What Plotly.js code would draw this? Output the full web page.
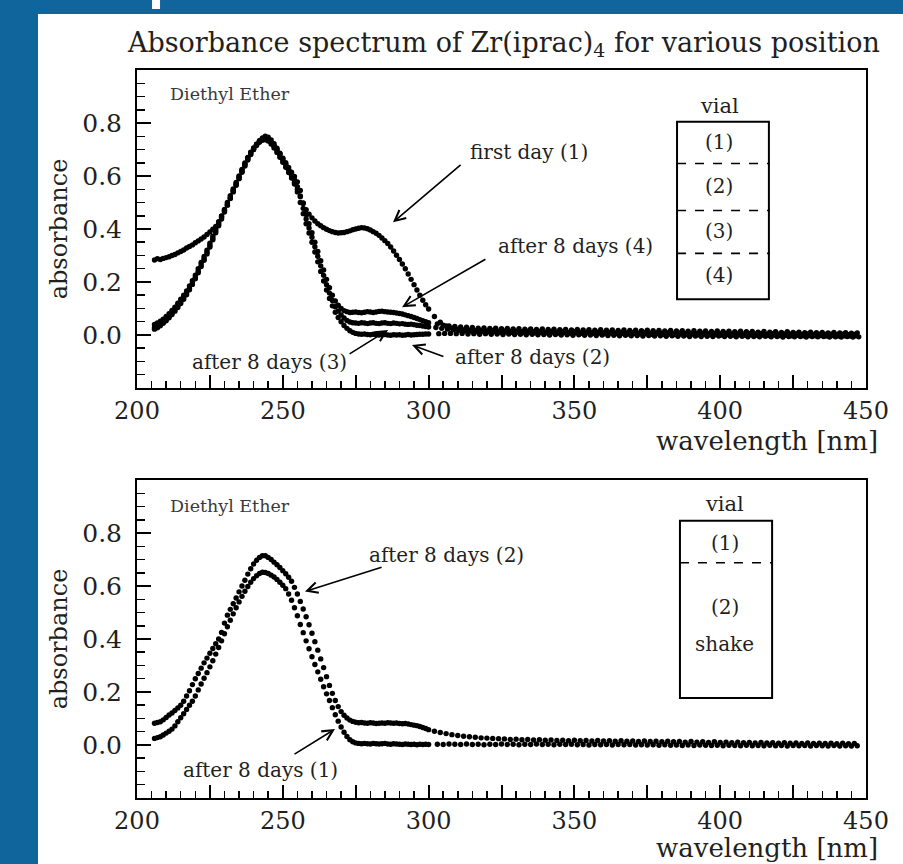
<!DOCTYPE html>
<html>
<head>
<meta charset="utf-8">
<script src="https://cdn.plot.ly/plotly-3.0.1.min.js"></script>
<style>html,body{margin:0;padding:0;background:#11659d;}#chart{width:903px;height:864px;}</style>
</head>
<body>
<div id="chart"></div>
<script>
// ---- wavelength grids (nm): segment A 206..300 step 1, segment B (tail) step 2
const WL_A_START = 206, WL_A_STEP = 1;
const WL_B_STEP = 2;
// tail sampling starts (each scan sampled on its own grid)
const tailStart = {firstDay: 302, d8_4: 303, d8_3: 302.5, d8_2: 303.5, sh2: 302, sh1: 303};

// ---- axis ticks
const yTickValues = [0, 0.2, 0.4, 0.6, 0.8];
const yTickLabels = ['0.0','0.2','0.4','0.6','0.8'];

// ---- TOP PANEL: first day (1)
const firstDayA = [0.283,0.288,0.285,0.289,0.292,0.295,0.300,0.304,0.310,0.315,
0.321,0.328,0.334,0.340,0.348,0.355,0.362,0.370,0.379,0.389,
0.399,0.410,0.428,0.448,0.469,0.491,0.515,0.540,0.565,0.590,
0.614,0.638,0.660,0.681,0.700,0.718,0.733,0.744,0.750,0.746,
0.736,0.722,0.705,0.686,0.666,0.645,0.622,0.600,0.576,0.550,
0.522,0.496,0.473,0.456,0.442,0.430,0.420,0.412,0.405,0.399,
0.394,0.390,0.387,0.385,0.386,0.387,0.390,0.393,0.397,0.400,
0.403,0.405,0.404,0.401,0.396,0.390,0.384,0.376,0.366,0.356,
0.345,0.332,0.317,0.301,0.285,0.268,0.250,0.230,0.210,0.190,
0.170,0.150,0.131,0.114,0.098];
const firstDayB = [0.070,0.048,0.034,0.026,0.022,0.019,0.018,0.016,0.017,0.015,
0.016,0.014,0.015,0.013,0.014,0.012,0.014,0.012,0.013,0.011,
0.013,0.011,0.012,0.010,0.012,0.010,0.011,0.009,0.011,0.009,
0.010,0.008,0.010,0.008,0.009,0.007,0.009,0.007,0.008,0.007,
0.008,0.006,0.008,0.006,0.007,0.005,0.007,0.005,0.006,0.005,
0.006,0.004,0.006,0.004,0.005,0.004,0.005,0.003,0.005,0.003,
0.004,0.003,0.004,0.002,0.004,0.002,0.003,0.002,0.003,0.001,
0.003,0.001,0.002];

// ---- TOP PANEL: after 8 days (4)
const days8_4A = [0.040,0.045,0.052,0.060,0.070,0.080,0.093,0.105,0.120,0.135,
0.150,0.166,0.185,0.205,0.226,0.250,0.274,0.296,0.320,0.346,
0.373,0.399,0.424,0.449,0.474,0.500,0.526,0.551,0.576,0.600,
0.625,0.649,0.670,0.690,0.706,0.720,0.731,0.738,0.740,0.736,
0.727,0.714,0.700,0.684,0.667,0.650,0.632,0.614,0.598,0.578,
0.545,0.498,0.455,0.420,0.386,0.350,0.315,0.280,0.245,0.210,
0.178,0.150,0.128,0.112,0.100,0.092,0.088,0.085,0.086,0.087,
0.085,0.084,0.086,0.088,0.087,0.085,0.087,0.089,0.090,0.088,
0.087,0.086,0.085,0.083,0.081,0.079,0.076,0.073,0.070,0.066,
0.062,0.058,0.054,0.050,0.046];
const days8_4B = [0.042,0.037,0.034,0.032,0.030,0.029,0.028,0.026,0.027,0.025,
0.026,0.024,0.025,0.023,0.024,0.022,0.023,0.021,0.023,0.021,
0.022,0.020,0.021,0.019,0.021,0.019,0.020,0.018,0.020,0.018,
0.019,0.017,0.019,0.017,0.018,0.016,0.018,0.016,0.017,0.015,
0.017,0.015,0.016,0.014,0.016,0.014,0.015,0.013,0.015,0.013,
0.014,0.012,0.014,0.012,0.013,0.011,0.013,0.011,0.012,0.010,
0.012,0.010,0.011,0.009,0.011,0.009,0.010,0.008,0.010,0.008,
0.009,0.007,0.008];

// ---- TOP PANEL: after 8 days (3)
const days8_3A = [0.028,0.033,0.042,0.050,0.060,0.071,0.083,0.096,0.110,0.125,
0.141,0.158,0.177,0.197,0.218,0.241,0.265,0.288,0.312,0.338,
0.365,0.392,0.418,0.443,0.469,0.495,0.521,0.547,0.572,0.597,
0.622,0.646,0.668,0.688,0.705,0.720,0.732,0.740,0.742,0.737,
0.727,0.712,0.696,0.679,0.661,0.643,0.624,0.605,0.585,0.560,
0.525,0.478,0.438,0.404,0.369,0.333,0.297,0.261,0.225,0.190,
0.158,0.130,0.107,0.090,0.076,0.064,0.055,0.049,0.046,0.045,
0.044,0.046,0.045,0.043,0.045,0.046,0.044,0.043,0.045,0.046,
0.044,0.043,0.045,0.044,0.042,0.043,0.041,0.040,0.041,0.039,
0.037,0.036,0.034,0.032,0.030];
const days8_3B = [0.028,0.025,0.022,0.020,0.018,0.016,0.015,0.013,0.014,0.012,
0.013,0.011,0.012,0.010,0.011,0.009,0.010,0.008,0.010,0.008,
0.009,0.007,0.009,0.007,0.008,0.006,0.008,0.006,0.007,0.005,
0.007,0.005,0.006,0.004,0.006,0.004,0.005,0.003,0.005,0.003,
0.004,0.002,0.004,0.002,0.003,0.001,0.003,0.001,0.002,0.000,
0.002,0.000,0.001,-0.001,0.001,-0.001,0.000,-0.002,0.000,-0.002,
-0.001,-0.003,-0.001,-0.003,-0.002,-0.003,-0.002,-0.004,-0.002,-0.004,
-0.003,-0.004,-0.003];

// ---- TOP PANEL: after 8 days (2)
const days8_2A = [0.022,0.027,0.035,0.044,0.054,0.065,0.077,0.090,0.104,0.119,
0.135,0.152,0.171,0.191,0.212,0.235,0.258,0.282,0.306,0.332,
0.359,0.386,0.412,0.438,0.464,0.490,0.516,0.542,0.567,0.592,
0.617,0.641,0.663,0.683,0.700,0.715,0.727,0.735,0.737,0.732,
0.721,0.706,0.689,0.671,0.652,0.633,0.613,0.592,0.570,0.540,
0.500,0.458,0.420,0.385,0.350,0.313,0.276,0.240,0.204,0.170,
0.138,0.110,0.086,0.066,0.050,0.036,0.025,0.016,0.010,0.006,
0.004,0.003,0.004,0.002,0.001,0.003,0.002,0.000,0.001,0.002,
0.000,-0.001,0.001,0.000,0.001,-0.001,0.000,0.002,0.000,0.001,
0.002,0.003,0.003,0.004,0.004];
const days8_2B = [0.005,0.006,0.006,0.005,0.006,0.004,0.005,0.003,0.005,0.003,
0.004,0.002,0.004,0.002,0.003,0.001,0.003,0.001,0.002,0.000,
0.002,0.000,0.001,-0.001,0.001,-0.001,0.000,-0.002,0.000,-0.002,
-0.001,-0.003,-0.001,-0.003,-0.002,-0.004,-0.002,-0.004,-0.003,-0.005,
-0.003,-0.005,-0.004,-0.006,-0.004,-0.006,-0.005,-0.006,-0.004,-0.006,
-0.005,-0.007,-0.005,-0.007,-0.006,-0.007,-0.005,-0.007,-0.006,-0.008,
-0.006,-0.007,-0.006,-0.008,-0.006,-0.007,-0.006,-0.008,-0.007,-0.008,
-0.006,-0.008,-0.007];

// ---- BOTTOM PANEL: after 8 days (2) (upper curve)
const shake2A = [0.082,0.085,0.088,0.095,0.104,0.113,0.121,0.130,0.140,0.150,
0.165,0.185,0.205,0.228,0.250,0.270,0.290,0.310,0.328,0.346,
0.364,0.382,0.400,0.425,0.460,0.490,0.512,0.533,0.555,0.578,
0.600,0.622,0.645,0.665,0.683,0.697,0.708,0.714,0.714,0.708,
0.700,0.690,0.680,0.670,0.658,0.646,0.633,0.618,0.595,0.570,
0.542,0.513,0.484,0.454,0.422,0.390,0.358,0.325,0.292,0.258,
0.225,0.195,0.168,0.145,0.126,0.112,0.102,0.094,0.089,0.086,
0.084,0.085,0.083,0.082,0.084,0.083,0.081,0.082,0.083,0.082,
0.084,0.083,0.082,0.083,0.081,0.080,0.081,0.079,0.077,0.075,
0.073,0.070,0.066,0.062,0.058];
const shake2B = [0.052,0.047,0.043,0.039,0.036,0.033,0.031,0.029,0.027,0.026,
0.025,0.024,0.023,0.021,0.022,0.020,0.021,0.019,0.020,0.018,
0.019,0.017,0.018,0.016,0.018,0.016,0.017,0.015,0.017,0.015,
0.016,0.014,0.016,0.014,0.015,0.013,0.015,0.013,0.014,0.012,
0.014,0.012,0.013,0.011,0.013,0.011,0.012,0.010,0.012,0.010,
0.011,0.009,0.011,0.009,0.010,0.008,0.010,0.008,0.009,0.007,
0.009,0.007,0.008,0.006,0.008,0.006,0.007,0.006,0.007,0.005,
0.007,0.005,0.006];

// ---- BOTTOM PANEL: after 8 days (1) (lower curve)
const shake1A = [0.025,0.028,0.031,0.038,0.045,0.052,0.060,0.072,0.088,0.103,
0.118,0.134,0.150,0.165,0.185,0.208,0.230,0.252,0.273,0.295,
0.318,0.343,0.368,0.393,0.420,0.446,0.471,0.495,0.518,0.540,
0.561,0.580,0.598,0.614,0.628,0.639,0.647,0.652,0.651,0.647,
0.641,0.634,0.625,0.614,0.603,0.590,0.570,0.546,0.518,0.488,
0.455,0.424,0.393,0.363,0.333,0.304,0.276,0.248,0.220,0.193,
0.168,0.141,0.114,0.090,0.068,0.048,0.032,0.020,0.012,0.008,
0.006,0.005,0.006,0.005,0.004,0.006,0.005,0.004,0.005,0.006,
0.004,0.003,0.005,0.004,0.003,0.002,0.004,0.003,0.002,0.003,
0.001,0.003,0.002,0.003,0.002];
const shake1B = [0.003,0.002,0.004,0.003,0.002,0.004,0.002,0.003,0.001,0.003,
0.002,0.004,0.002,0.003,0.001,0.003,0.002,0.004,0.002,0.003,
0.001,0.003,0.002,0.003,0.001,0.002,0.000,0.002,0.001,0.002,
0.000,0.002,0.001,0.002,0.000,0.001,0.000,0.001,-0.001,0.001,
-0.001,0.000,-0.002,0.000,-0.002,0.000,-0.001,-0.002,-0.001,-0.003,
-0.001,-0.002,-0.003,-0.001,-0.003,-0.002,-0.003,-0.001,-0.003,-0.002,
-0.004,-0.002,-0.003,-0.002,-0.004,-0.002,-0.003,-0.004,-0.002,-0.004,
-0.003,-0.004,-0.003];

// ---------------------------------------------------------------
const INK = '#231f20';
const SERIF = 'DejaVu Serif';
const marker = {size: 5.4, color: '#000000'};

function seg(values, x0, dx, xa, ya, name) {
  return {type: 'scatter', mode: 'markers', y: values, x0: x0, dx: dx,
          xaxis: xa, yaxis: ya, marker: marker, name: name, showlegend: false,
          hoverinfo: 'x+y'};
}
function series(a, b, tail0, xa, ya, name) {
  return [seg(a, WL_A_START, WL_A_STEP, xa, ya, name),
          seg(b, tail0, WL_B_STEP, xa, ya, name)];
}

const traces = [].concat(
  series(firstDayA, firstDayB, tailStart.firstDay, 'x', 'y', 'first day (1)'),
  series(days8_4A, days8_4B, tailStart.d8_4, 'x', 'y', 'after 8 days (4)'),
  series(days8_3A, days8_3B, tailStart.d8_3, 'x', 'y', 'after 8 days (3)'),
  series(days8_2A, days8_2B, tailStart.d8_2, 'x', 'y', 'after 8 days (2)'),
  series(shake2A, shake2B, tailStart.sh2, 'x2', 'y2', 'after 8 days (2)'),
  series(shake1A, shake1B, tailStart.sh1, 'x2', 'y2', 'after 8 days (1)')
);

function xAxis(anchor) {
  return {
    anchor: anchor, domain: [0, 1], range: [200, 450],
    tickmode: 'linear', tick0: 200, dtick: 25, ticklabelstep: 2,
    ticks: 'inside', ticklen: 13, tickwidth: 2, tickcolor: '#000',
    minor: {tickmode: 'linear', tick0: 200, dtick: 5, ticks: 'inside', ticklen: 7, tickwidth: 1.5, tickcolor: '#000', showgrid: false},
    showline: true, linewidth: 2, linecolor: '#000', mirror: true,
    showgrid: false, zeroline: false, ticklabelstandoff: 0,
    tickfont: {family: SERIF, size: 24, color: INK}
  };
}
function yAxis(anchor, domain) {
  return {
    anchor: anchor, domain: domain, range: [-0.2, 1.0],
    tickmode: 'array', tickvals: yTickValues, ticktext: yTickLabels,
    ticks: 'inside', ticklen: 14, tickwidth: 2, tickcolor: '#000',
    minor: {tickmode: 'linear', tick0: 0, dtick: 0.05, ticks: 'inside', ticklen: 8, tickwidth: 1.5, tickcolor: '#000', showgrid: false},
    showline: true, linewidth: 2, linecolor: '#000', mirror: true,
    showgrid: false, zeroline: false, ticklabelstandoff: 8,
    tickfont: {family: SERIF, size: 25, color: INK},
    title: {text: 'absorbance', font: {family: SERIF, size: 24, color: INK}, standoff: 8}
  };
}

function txt(text, x, y, xref, yref, size, extra) {
  return Object.assign({text: text, x: x, y: y, xref: xref, yref: yref, showarrow: false,
    xanchor: 'center', yanchor: 'middle', font: {family: SERIF, size: size, color: INK}}, extra || {});
}
function arrow(xh, yh, xt, yt, xref, yref) {
  return {text: '', x: xh, y: yh, ax: xt, ay: yt, xref: xref, yref: yref, axref: xref, ayref: yref,
    showarrow: true, arrowhead: 5, arrowsize: 1.3, arrowwidth: 1.6, arrowcolor: '#000'};
}

const annotations = [
  // top panel
  txt('Diethyl Ether', 231.9, 0.91, 'x', 'y', 17.5, {font: {family: SERIF, size: 17.5, color: '#3a3a3a'}}),
  txt('first day (1)', 334.4, 0.692, 'x', 'y', 20),
  arrow(287.8, 0.425, 311.5, 0.647, 'x', 'y'),
  txt('after 8 days (4)', 350.5, 0.335, 'x', 'y', 20),
  arrow(290.9, 0.105, 320.0, 0.289, 'x', 'y'),
  txt('after 8 days (2)', 335.5, -0.083, 'x', 'y', 20),
  arrow(294.3, -0.038, 305.6, -0.083, 'x', 'y'),
  txt('after 8 days (3)', 245.3, -0.102, 'x', 'y', 20),
  arrow(286.1, 0.019, 272.4, -0.075, 'x', 'y'),
  txt('vial', 399.6, 0.865, 'x', 'y', 21),
  txt('(1)', 399.6, 0.729, 'x', 'y', 20),
  txt('(2)', 399.6, 0.564, 'x', 'y', 20),
  txt('(3)', 399.6, 0.391, 'x', 'y', 20),
  txt('(4)', 399.6, 0.226, 'x', 'y', 20),
  txt('wavelength [nm]', 1.0192, 0.4905, 'paper', 'paper', 26, {xanchor: 'right'}),
  // bottom panel
  txt('Diethyl Ether', 231.9, 0.902, 'x2', 'y2', 17.5, {font: {family: SERIF, size: 17.5, color: '#3a3a3a'}}),
  txt('after 8 days (2)', 306.3, 0.718, 'x2', 'y2', 20),
  arrow(257.6, 0.579, 284.4, 0.673, 'x2', 'y2'),
  txt('after 8 days (1)', 242.5, -0.094, 'x2', 'y2', 20),
  arrow(267.9, 0.060, 253.5, -0.038, 'x2', 'y2'),
  txt('vial', 401.6, 0.910, 'x2', 'y2', 21),
  txt('(1)', 401.6, 0.763, 'x2', 'y2', 20),
  txt('(2)', 401.6, 0.519, 'x2', 'y2', 20),
  txt('shake', 401.6, 0.383, 'x2', 'y2', 20),
  txt('wavelength [nm]', 1.0192, -0.0686, 'paper', 'paper', 26, {xanchor: 'right'})
];

const shapes = [
  // white page on blue slide
  {type: 'rect', xref: 'paper', yref: 'paper', x0: -0.1358, x1: 1.06, y0: -0.1, y1: 1.0769,
   fillcolor: '#ffffff', line: {width: 0}, layer: 'below'},
  {type: 'rect', xref: 'paper', yref: 'paper', x0: 0.0206, x1: 0.0316, y0: 1.0838, y1: 1.1,
   fillcolor: '#ffffff', line: {width: 0}, layer: 'below'},
  // vial diagram, top
  {type: 'rect', xref: 'x', yref: 'y', x0: 385.2, x1: 416.7, y0: 0.135, y1: 0.805, line: {color: '#000', width: 2}},
  {type: 'line', xref: 'x', yref: 'y', x0: 385.2, x1: 417.0, y0: 0.647, y1: 0.647, line: {color: '#000', width: 1.6, dash: 'dash'}},
  {type: 'line', xref: 'x', yref: 'y', x0: 385.2, x1: 417.0, y0: 0.470, y1: 0.470, line: {color: '#000', width: 1.6, dash: 'dash'}},
  {type: 'line', xref: 'x', yref: 'y', x0: 385.2, x1: 417.0, y0: 0.308, y1: 0.308, line: {color: '#000', width: 1.6, dash: 'dash'}},
  // vial diagram, bottom
  {type: 'rect', xref: 'x2', yref: 'y2', x0: 386.2, x1: 417.8, y0: 0.177, y1: 0.846, line: {color: '#000', width: 2}},
  {type: 'line', xref: 'x2', yref: 'y2', x0: 386.2, x1: 417.8, y0: 0.688, y1: 0.688, line: {color: '#000', width: 1.6, dash: 'dash'}}
];

const layout = {
  width: 903, height: 864,
  margin: {l: 137, r: 37, t: 70, b: 66, pad: 0},
  paper_bgcolor: '#11659d', plot_bgcolor: 'rgba(0,0,0,0)',
  showlegend: false,
  title: {text: 'Absorbance spectrum of Zr(iprac)<sub>4</sub> for various position',
          xref: 'container', yref: 'container', x: 0.558, y: 0.951, xanchor: 'center', yanchor: 'middle',
          font: {family: SERIF, size: 27, color: INK}},
  xaxis: xAxis('y'),
  yaxis: yAxis('x', [0.5632, 1]),
  xaxis2: xAxis('y2'),
  yaxis2: yAxis('x2', [0, 0.4368]),
  annotations: annotations,
  shapes: shapes
};

Plotly.newPlot('chart', traces, layout, {displayModeBar: false, staticPlot: true});
</script>
</body>
</html>
